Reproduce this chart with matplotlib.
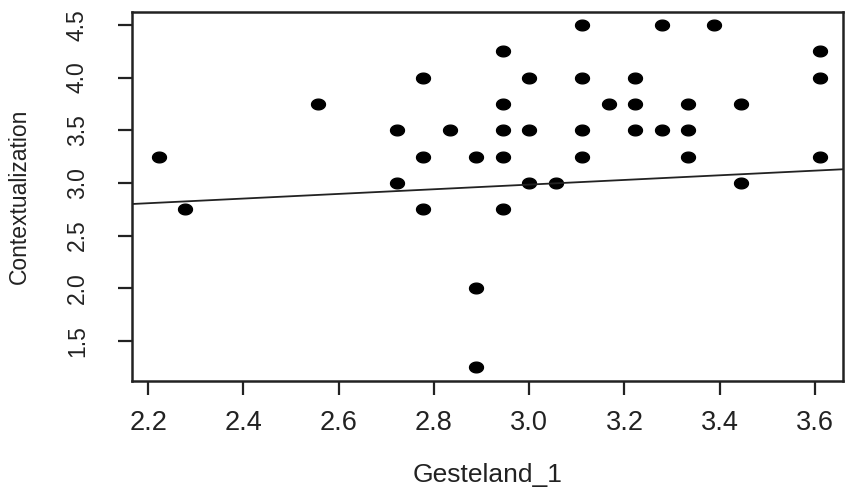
import numpy as np
import matplotlib
matplotlib.use("Agg")
import matplotlib.pyplot as plt
from matplotlib.path import Path

# Data (x values; multiples of 1/18)
gesteland_1 = [2.222, 2.278, 2.556, 2.722, 2.722, 2.778, 2.778, 2.778, 2.833,
               2.889, 2.889, 2.889, 2.944, 2.944, 2.944, 2.944, 2.944,
               3.0, 3.0, 3.0, 3.056, 3.111, 3.111, 3.111, 3.111, 3.167,
               3.222, 3.222, 3.222, 3.278, 3.278, 3.333, 3.333, 3.333,
               3.389, 3.444, 3.444, 3.611, 3.611, 3.611]
contextualization = [3.25, 2.75, 3.75, 3.5, 3.0, 4.0, 3.25, 2.75, 3.5,
                     3.25, 2.0, 1.25, 4.25, 3.75, 3.5, 3.25, 2.75,
                     4.0, 3.5, 3.0, 3.0, 4.5, 4.0, 3.5, 3.25, 3.75,
                     4.0, 3.75, 3.5, 4.5, 3.5, 3.75, 3.5, 3.25,
                     4.5, 3.75, 3.0, 4.25, 4.0, 3.25]
fit_intercept = 2.321
fit_slope = 0.221

x_ticks = [2.2, 2.4, 2.6, 2.8, 3.0, 3.2, 3.4, 3.6]
y_ticks = [1.5, 2.0, 2.5, 3.0, 3.5, 4.0, 4.5]

plt.rcParams['font.family'] = ['Liberation Sans', 'DejaVu Sans']

fig = plt.figure(figsize=(8.46, 4.92), dpi=100)
ax = fig.add_axes([132/846, 1-381/492, (843-132)/846, (381-12)/492])

# slightly wide ellipse marker
t = np.linspace(0, 2*np.pi, 60)
ell = Path(np.column_stack([1.3*np.cos(t), np.sin(t)]), closed=True)

ax.plot(gesteland_1, contextualization, linestyle='none', marker=ell,
        markersize=10, color='black')
ax.axline((0, fit_intercept), slope=fit_slope, color='#222222', lw=1.3)

ax.set_xlim(2.166, 3.659)
ax.set_ylim(1.119, 4.623)
ax.set_xticks(x_ticks)
ax.set_xticklabels([f"{v:.1f}" for v in x_ticks])
ax.set_yticks(y_ticks)
ax.set_yticklabels([f"{v:.1f}" for v in y_ticks], rotation=90, va='center')

for s in ax.spines.values():
    s.set_linewidth(1.8)
    s.set_color('#222222')
ax.tick_params(direction='out', length=10, width=1.6, color='#222222',
               labelcolor='#222222')
ax.tick_params(axis='x', labelsize=19.5, pad=11)
ax.tick_params(axis='y', labelsize=16.5, pad=21)

ax.set_xlabel('Gesteland_1', fontsize=19, color='#222222', labelpad=19)
ax.set_ylabel('Contextualization', fontsize=16.5, color='#222222', labelpad=25)

fig.savefig('out.png', dpi=100)
